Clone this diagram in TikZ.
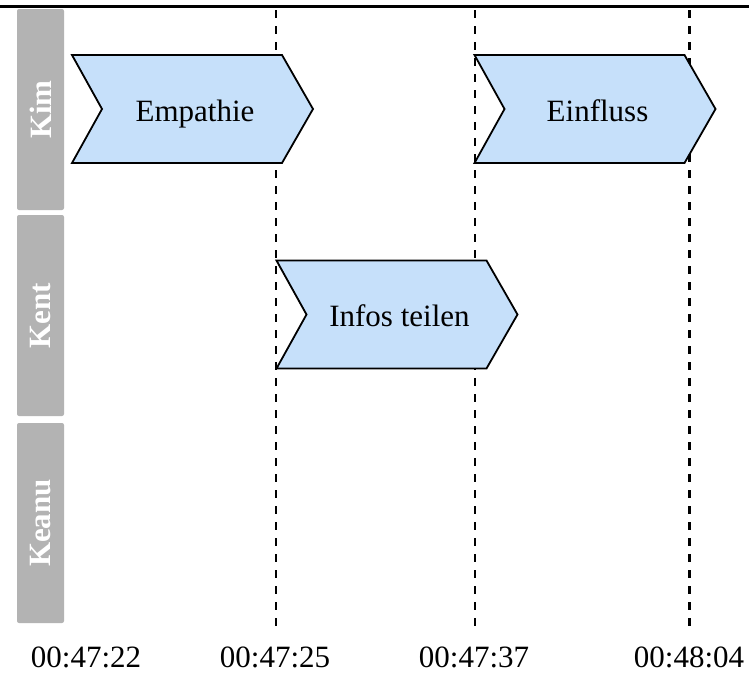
\documentclass[tikz,border=0pt]{standalone}
\usepackage{fontspec}
\setmainfont{Liberation Serif}
\definecolor{lanegray}{RGB}{179,179,179}
\definecolor{chevblue}{RGB}{198,224,250}
\newcommand\chevronpath[2]{% left x, top y of a phase arrow
  \draw[chev] (#1,#2) -- ++(210,0) -- ++(31,54) -- ++(-31,54) -- ++(-210,0)
    -- ++(30,-54) -- cycle;}
\begin{document}
\begin{tikzpicture}[x=1pt,y=-1pt,
  lanebox/.style={fill=lanegray, rounded corners=2pt},
  lanelabel/.style={text=white, font=\fontsize{31}{36}\selectfont\bfseries,
    rotate=90, inner sep=0pt},
  chev/.style={draw=black, line width=1.8pt, fill=chevblue, line join=miter},
  chevtext/.style={font=\fontsize{31}{36}\selectfont, anchor=base, inner sep=0pt},
  timeline/.style={draw=black, line width=2.2pt, dash pattern=on 8pt off 8pt},
  stamp/.style={font=\fontsize{31}{36}\selectfont, anchor=base, inner sep=0pt},
  topline/.style={draw=black, line width=3.5pt}]
\useasboundingbox (0,0) rectangle (749,673);

% header rule
\coordinate (hl) at (0,6.5);
\coordinate (hr) at (749,6.5);
\draw[topline] (hl) -- (hr);

% time markers (behind the phase arrows)
\foreach \n/\x in {t2/276, t3/475, t4/689.5} {
  \coordinate (\n top) at (\x,10);
  \coordinate (\n bot) at (\x,630);
  \draw[timeline] (\n top) -- (\n bot);
}

% swimlane headers
\fill[lanebox] (17,9) rectangle (64,210);
\fill[lanebox] (17,215) rectangle (64,416);
\fill[lanebox] (17,423) rectangle (64,623);
\node[lanelabel] (kim) at (40.5,109.5) {Kim};
\node[lanelabel] (kent) at (40.5,315.5) {Kent};
\node[lanelabel] (keanu) at (40.5,523) {Keanu};

% phases
\chevronpath{72}{55}
\chevronpath{474.5}{55}
\chevronpath{276.5}{260.5}
\node[chevtext] (empathie) at (195,121.5) {Empathie};
\node[chevtext] (einfluss) at (597.5,121.5) {Einfluss};
\node[chevtext] (infos) at (399.5,326.5) {Infos teilen};

% time stamps
\node[stamp] (s1) at (86,667) {00:47:22};
\node[stamp] (s2) at (275,667) {00:47:25};
\node[stamp] (s3) at (474,667) {00:47:37};
\node[stamp] (s4) at (689,667) {00:48:04};
\end{tikzpicture}
\end{document}
